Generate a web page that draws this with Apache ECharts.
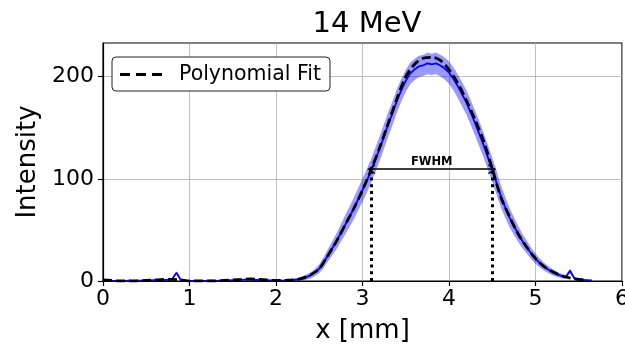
<!DOCTYPE html>
<html>
<head>
<meta charset="utf-8">
<script src="https://cdn.jsdelivr.net/npm/echarts@6/dist/echarts.min.js"></script>
<style>
  html, body { margin: 0; padding: 0; background: #fff; }
  #chart { width: 625px; height: 350px; }
</style>
</head>
<body>
<div id="chart"></div>
<script>
// Beam profile, 14 MeV: measured intensity (mean +/- spread) and its polynomial fit.

// Measured profile, sampled every 0.05 mm from 0 to 5.65 mm
const measStep = 0.05;
const measValues = [
  0.5, 0.3, 0.2, 0.1, 0.2, 0.1, 0.3, 0.2, 0.4, 0.3,
  0.6, 0.5, 0.8, 0.7, 1.0, 1.2, 2.0, 8.0, 0.8, 0.3,
  0.2, 0.1, 0.2, 0.1, 0.2, 0.3, 0.2, 0.4, 0.5, 0.7,
  0.8, 1.0, 1.1, 1.3, 1.4, 1.2, 1.0, 0.9, 0.7, 0.5,
  0.4, 0.4, 0.5, 0.7, 1.0, 1.6, 2.4, 3.8, 5.5, 8.5,
  12, 18, 25, 32, 39, 47, 55, 63, 71, 80,
  89, 98, 108, 119, 130, 142, 154, 165, 177, 187,
  196, 203, 207, 210, 211, 213, 212, 213, 211, 208,
  204, 198, 191, 183, 175, 165, 155, 144, 133, 121,
  109, 96, 83, 72, 62, 54, 46, 39, 33, 27,
  22, 17.5, 14, 11, 8.5, 6.5, 5.0, 4.0, 10, 2.5,
  1.8, 1.2, 0.8, 0.5
];
// Half-width of the shaded spread around the measured profile
const measSpread = [
  0.8, 0.7, 0.8, 0.9, 0.7, 0.8, 0.8, 0.7, 0.9, 0.8,
  0.8, 0.7, 0.8, 0.9, 0.8, 0.8, 1.0, 1.5, 0.8, 0.8,
  0.7, 0.8, 0.8, 0.9, 0.7, 0.8, 0.8, 0.7, 0.8, 0.9,
  0.8, 0.8, 0.7, 0.8, 0.9, 0.8, 0.8, 0.7, 0.8, 0.8,
  0.8, 0.9, 0.8, 1.0, 1.2, 1.6, 2.0, 2.5, 3.0, 3.6,
  4.3, 5.2, 6.0, 7.0, 7.8, 8.6, 9.4, 10.0, 10.6, 11.0,
  11.4, 11.6, 11.8, 12.0, 12.0, 12.1, 12.0, 11.8, 11.5, 11.0,
  10.8, 10.6, 10.4, 10.5, 10.3, 10.6, 10.4, 10.6, 10.5, 10.8,
  11.0, 11.3, 11.5, 11.8, 12.0, 12.1, 12.2, 12.3, 12.2, 12.1,
  12.0, 11.6, 11.0, 10.2, 9.4, 8.6, 7.8, 7.0, 6.3, 5.6,
  5.0, 4.4, 3.9, 3.4, 3.0, 2.6, 2.2, 1.9, 2.2, 1.5,
  1.3, 1.1, 1.0, 0.9
];

// Polynomial fit, sampled every 0.1 mm from 0 to 5.6 mm
const fitStep = 0.1;
const fitValues = [
  1.0, 0.5, 0.0, 0.0, 0.0, 0.5, 1.0, 1.5, 1.5, 1.0,
  0.0, 0.0, 0.0, 0.0, 0.5, 1.0, 1.5, 2.0, 1.5, 1.0,
  0.5, 0.5, 1.0, 2.5, 6.0, 12, 25, 39, 55, 71,
  89, 109, 131, 155, 179, 200, 212, 218, 219, 216,
  207, 194, 177, 158, 137, 110, 82, 63, 46, 33,
  22, 14, 9, 5, 3, 1.5, 1.0
];

// FWHM markers
const fwhmEdges = [3.1, 4.5];
const halfMax = 109.5;

// Axis ticks
const xTicks = [0, 1, 2, 3, 4, 5, 6];
const yTicks = [0, 100, 200];

const measX = measValues.map((v, i) => +(i * measStep).toFixed(2));
const measPoints = measValues.map((v, i) => [measX[i], v]);
const bandRows = measValues.map((v, i) => [measX[i], v - measSpread[i], v + measSpread[i]]);
const fitPoints = fitValues.map((v, i) => [+(i * fitStep).toFixed(2), v]);

const FONT = 'DejaVu Sans';
const chevron = 'path://M0,10 L5,0 L10,10 L8.5,10 L5,3 L1.5,10 Z';
const dashIcon = 'path://M0,0 H10 V3 H0 Z M16,0 H26 V3 H16 Z M32,0 H42 V3 H32 Z';

// Shaded spread: one polygon through the upper edge and back along the lower edge
function renderBand(params, api) {
  if (params.dataIndex !== 0) return null;
  const upper = bandRows.map(r => api.coord([r[0], r[2]]));
  const lower = bandRows.map(r => api.coord([r[0], r[1]])).reverse();
  return {
    type: 'polygon',
    shape: { points: upper.concat(lower) },
    style: { fill: 'rgba(0,0,255,0.4)', stroke: 'none' }
  };
}

const chart = echarts.init(document.getElementById('chart'), null, { renderer: 'canvas' });
chart.setOption({
  animation: false,
  backgroundColor: '#ffffff',
  textStyle: { fontFamily: FONT },
  title: {
    text: '14 MeV',
    left: 362, top: 5, textAlign: 'center',
    textStyle: { fontFamily: FONT, fontSize: 29, fontWeight: 'normal', color: '#000' }
  },
  grid: {
    left: 103, right: 3, top: 43, bottom: 69,
    outerBoundsMode: 'none', containLabel: false,
    show: true, borderColor: '#000', borderWidth: 1.2, backgroundColor: 'transparent'
  },
  legend: {
    data: [{ name: 'Polynomial Fit', icon: dashIcon }],
    left: 112, top: 57,
    orient: 'vertical',
    padding: [7, 9, 6, 8],
    itemWidth: 42, itemHeight: 3,
    backgroundColor: '#fff',
    borderColor: '#222', borderWidth: 1, borderRadius: 4,
    itemStyle: { color: '#000' },
    textStyle: { fontFamily: FONT, fontSize: 20.5, color: '#000', padding: [0, 0, 0, 12] }
  },
  xAxis: {
    type: 'value', min: 0, max: 6, interval: 1,
    name: 'x [mm]', nameLocation: 'middle', nameGap: 37,
    nameTextStyle: { fontFamily: FONT, fontSize: 26, color: '#000' },
    axisLine: { show: true, onZero: false, lineStyle: { color: '#000', width: 1.2 } },
    axisTick: { show: true, length: 5, lineStyle: { color: '#000', width: 1.2 }, customValues: xTicks },
    axisLabel: { fontFamily: FONT, fontSize: 22, color: '#000', margin: 7, customValues: xTicks },
    splitLine: { show: true, lineStyle: { color: '#b0b0b0', width: 0.8 } }
  },
  yAxis: {
    type: 'value', min: 0, max: 233, interval: 100,
    name: 'Intensity', nameLocation: 'middle', nameGap: 59, nameRotate: 90,
    nameTextStyle: { fontFamily: FONT, fontSize: 26, color: '#000' },
    axisLine: { show: true, onZero: false, lineStyle: { color: '#000', width: 1.2 } },
    axisTick: { show: true, length: 5, lineStyle: { color: '#000', width: 1.2 }, customValues: yTicks },
    axisLabel: { fontFamily: FONT, fontSize: 22, color: '#000', margin: 9, customValues: yTicks },
    splitLine: { show: true, lineStyle: { color: '#b0b0b0', width: 0.8 } }
  },
  series: [
    {
      name: 'spread', type: 'custom', coordinateSystem: 'cartesian2d',
      data: bandRows, encode: { x: 0, y: [1, 2] },
      renderItem: renderBand, clip: true, silent: true, z: 1
    },
    {
      name: 'Measured', type: 'line', data: measPoints,
      symbol: 'none', lineStyle: { color: '#0000ff', width: 1.8 }, z: 2
    },
    {
      name: 'Polynomial Fit', type: 'line', data: fitPoints, smooth: 0.3,
      symbol: 'none', itemStyle: { color: '#000' },
      lineStyle: { color: '#000', width: 2.8, type: [9, 4] }, z: 3,
      markLine: {
        silent: true, animation: false, symbol: ['none', 'none'],
        label: { show: false },
        data: [
          [
            { coord: [fwhmEdges[0], 0], lineStyle: { color: '#000', width: 3, type: [3, 3.7] } },
            { coord: [fwhmEdges[0], halfMax] }
          ],
          [
            { coord: [fwhmEdges[1], 0], lineStyle: { color: '#000', width: 3, type: [3, 3.7] } },
            { coord: [fwhmEdges[1], halfMax] }
          ],
          [
            {
              coord: [fwhmEdges[0], halfMax], symbol: chevron, symbolSize: [10, 8],
              lineStyle: { color: '#000', width: 1.5, type: 'solid' },
              label: {
                show: true, position: 'insideMiddleTop', formatter: 'FWHM',
                fontFamily: FONT, fontSize: 11.5, fontWeight: 'bold', color: '#000', distance: 1
              }
            },
            { coord: [fwhmEdges[1], halfMax], symbol: chevron, symbolSize: [10, 8] }
          ]
        ]
      }
    }
  ]
});
</script>
</body>
</html>
